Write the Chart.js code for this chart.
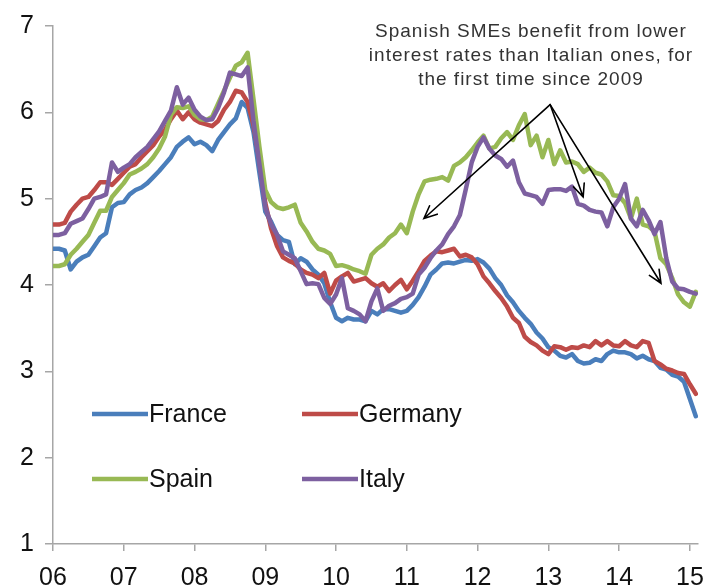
<!DOCTYPE html>
<html>
<head>
<meta charset="utf-8">
<title>SME interest rates</title>
<script src="https://cdn.jsdelivr.net/npm/chart.js@4.4.1/dist/chart.umd.min.js"></script>
<style>
    html, body { margin: 0; padding: 0; background: #fff; }
    #wrap { width: 716px; height: 586px; }
</style>
</head>
<body>
<div id="wrap"><canvas id="myChart" width="716" height="586"></canvas></div>
<script>
// monthly, Jan 2006 .. Feb 2015
var yearLabels = ['06', '07', '08', '09', '10', '11', '12', '13', '14', '15'];
var seriesNames = ['France', 'Germany', 'Spain', 'Italy'];
var seriesColors = ['#4A7EBB', '#BE4B48', '#98B954', '#7D60A0'];

var france = [
    4.42, 4.42, 4.40, 4.18, 4.27, 4.32, 4.35, 4.45, 4.55, 4.60, 4.90, 4.95,
    4.96, 5.05, 5.10, 5.13, 5.18, 5.25, 5.32, 5.40, 5.48, 5.60, 5.66, 5.71,
    5.63, 5.66, 5.62, 5.55, 5.68, 5.77, 5.86, 5.93, 6.12, 6.05, 5.77, 5.30,
    4.85, 4.73, 4.58, 4.52, 4.50, 4.24, 4.31, 4.27, 4.18, 4.12, 4.02, 3.80,
    3.62, 3.58, 3.62, 3.60, 3.60, 3.58, 3.70, 3.66, 3.72, 3.72, 3.70, 3.68,
    3.70, 3.77, 3.86, 3.98, 4.12, 4.18, 4.25, 4.26, 4.25, 4.27, 4.29, 4.28,
    4.30, 4.26, 4.19, 4.08, 4.00, 3.88, 3.80, 3.70, 3.62, 3.55, 3.45, 3.38,
    3.28, 3.24, 3.18, 3.16, 3.20, 3.12, 3.09, 3.10, 3.14, 3.12, 3.20, 3.24,
    3.22, 3.22, 3.20, 3.15, 3.18, 3.14, 3.12, 3.04, 3.02, 2.96, 2.94, 2.88,
    2.68, 2.48
];
var germany = [
    4.70, 4.70, 4.72, 4.85, 4.93, 5.00, 5.02, 5.10, 5.19, 5.19, 5.16, 5.23,
    5.30, 5.37, 5.40, 5.48, 5.55, 5.62, 5.72, 5.80, 5.92, 6.02, 5.92, 6.00,
    5.92, 5.88, 5.86, 5.84, 5.90, 6.03, 6.12, 6.25, 6.23, 6.12, 5.85, 5.45,
    4.95, 4.65, 4.45, 4.32, 4.28, 4.25, 4.18, 4.14, 4.12, 4.08, 4.14, 3.90,
    4.05, 4.10, 4.14, 4.04, 4.06, 4.08, 4.02, 3.98, 4.02, 3.93, 4.00, 4.06,
    3.95, 4.05, 4.16, 4.28, 4.34, 4.39, 4.38, 4.40, 4.42, 4.33, 4.35, 4.32,
    4.24, 4.10, 4.02, 3.93, 3.85, 3.75, 3.62, 3.56, 3.40, 3.34, 3.30, 3.24,
    3.20, 3.29, 3.28, 3.25, 3.28, 3.27, 3.30, 3.28, 3.35, 3.30, 3.35, 3.30,
    3.29, 3.35, 3.30, 3.28, 3.35, 3.33, 3.12, 3.08, 3.03, 3.01, 2.98, 2.97,
    2.85, 2.74
];
var spain = [
    4.22, 4.22, 4.24, 4.35, 4.42, 4.50, 4.58, 4.72, 4.86, 4.86, 5.02, 5.10,
    5.18, 5.28, 5.31, 5.35, 5.40, 5.48, 5.58, 5.72, 5.97, 6.06, 6.05, 6.07,
    5.97, 5.92, 5.91, 5.95, 6.10, 6.25, 6.40, 6.54, 6.58, 6.69, 6.15, 5.60,
    5.10, 4.96, 4.90, 4.88, 4.90, 4.93, 4.72, 4.62, 4.50, 4.42, 4.40, 4.36,
    4.22, 4.23, 4.21, 4.18, 4.16, 4.13, 4.35, 4.42, 4.47, 4.55, 4.60, 4.70,
    4.60, 4.85, 5.05, 5.20, 5.22, 5.23, 5.25, 5.21, 5.38, 5.42, 5.48, 5.56,
    5.65, 5.73, 5.58, 5.60, 5.70, 5.77, 5.68, 5.85, 5.98, 5.62, 5.73, 5.48,
    5.68, 5.40, 5.56, 5.42, 5.43, 5.40, 5.31, 5.36, 5.30, 5.28, 5.20, 5.04,
    5.03, 4.95, 4.77, 5.00, 4.70, 4.68, 4.62, 4.31, 4.24, 4.08, 3.89, 3.80,
    3.75, 3.92
];
var italy = [
    4.58, 4.58, 4.60, 4.71, 4.74, 4.77, 4.88, 5.00, 5.02, 5.05, 5.42, 5.31,
    5.36, 5.40, 5.48, 5.54, 5.60, 5.69, 5.78, 5.90, 6.02, 6.29, 6.09, 6.17,
    6.03, 5.95, 5.91, 5.92, 6.05, 6.23, 6.46, 6.44, 6.42, 6.52, 5.90, 5.40,
    4.90, 4.70, 4.58, 4.39, 4.35, 4.31, 4.16, 4.01, 4.02, 4.01, 3.85, 3.78,
    3.89, 4.08, 3.73, 3.70, 3.66, 3.58, 3.81, 3.96, 3.70, 3.76, 3.79, 3.84,
    3.86, 3.90, 4.12, 4.20, 4.31, 4.40, 4.47, 4.59, 4.68, 4.81, 5.11, 5.42,
    5.60, 5.71, 5.58, 5.50, 5.46, 5.37, 5.44, 5.19, 5.06, 5.04, 5.02, 4.94,
    5.10, 5.11, 5.11, 5.09, 5.14, 4.94, 4.92, 4.87, 4.85, 4.84, 4.68, 4.90,
    5.00, 5.17, 4.77, 4.68, 4.87, 4.75, 4.59, 4.73, 4.31, 4.04, 3.96, 3.95,
    3.92, 3.90
];
var allSeries = [france, germany, spain, italy];

var noteLines = ['Spanish SMEs benefit from lower', 'interest rates than Italian ones, for', 'the first time since 2009'];
// arrows in data units: [month, rate]
var arrowFrom = [84.3, 6.09];
var arrowTo = [[62.9, 4.77], [89.9, 5.02], [103.1, 4.02]];

var FONT = '"Liberation Sans", Arial, sans-serif';
var axisGrey = '#a6a6a6';

var toPoints = function (arr) {
    return arr.map(function (v, i) { return { x: i, y: v }; });
};

var datasets = seriesNames.map(function (name, k) {
    return {
        label: name,
        data: toPoints(allSeries[k]),
        borderColor: seriesColors[k],
        backgroundColor: seriesColors[k],
        borderWidth: 4.5,
        pointRadius: 0,
        tension: 0,
        borderJoinStyle: 'round',
        borderCapStyle: 'round',
        order: seriesNames.length - k
    };
});

// legend drawn inside the plot, 2 x 2
var insideLegend = {
    id: 'insideLegend',
    afterDraw: function (chart) {
        var ctx = chart.ctx;
        var cols = [92, 302];
        var rows = [414, 479];
        ctx.save();
        ctx.font = '25px ' + FONT;
        ctx.textBaseline = 'middle';
        ctx.textAlign = 'left';
        chart.data.datasets.forEach(function (ds, i) {
            var x = cols[i % 2];
            var y = rows[Math.floor(i / 2)];
            ctx.strokeStyle = ds.borderColor;
            ctx.lineWidth = 4.5;
            ctx.lineCap = 'butt';
            ctx.beginPath();
            ctx.moveTo(x, y);
            ctx.lineTo(x + 56, y);
            ctx.stroke();
            ctx.fillStyle = '#111';
            ctx.fillText(ds.label, x + 57, y + 1);
        });
        ctx.restore();
    }
};

var noteArrows = {
    id: 'noteArrows',
    afterDatasetsDraw: function (chart) {
        var ctx = chart.ctx;
        var xs = chart.scales.x, ys = chart.scales.y;
        var x0 = xs.getPixelForValue(arrowFrom[0]);
        var y0 = ys.getPixelForValue(arrowFrom[1]);
        ctx.save();
        ctx.strokeStyle = '#000';
        ctx.lineWidth = 1.6;
        ctx.lineCap = 'round';
        arrowTo.forEach(function (p) {
            var x1 = xs.getPixelForValue(p[0]);
            var y1 = ys.getPixelForValue(p[1]);
            var a = Math.atan2(y1 - y0, x1 - x0);
            var h = 14, w = 0.42;
            ctx.beginPath();
            ctx.moveTo(x0, y0);
            ctx.lineTo(x1, y1);
            ctx.moveTo(x1 - h * Math.cos(a - w), y1 - h * Math.sin(a - w));
            ctx.lineTo(x1, y1);
            ctx.lineTo(x1 - h * Math.cos(a + w), y1 - h * Math.sin(a + w));
            ctx.stroke();
        });

        ctx.fillStyle = '#333';
        ctx.font = '19px ' + FONT;
        ctx.letterSpacing = '1px';
        ctx.textAlign = 'center';
        ctx.textBaseline = 'middle';
        noteLines.forEach(function (t, i) {
            ctx.fillText(t, 531, 32 + i * 24);
        });
        ctx.restore();
    }
};

const config = {
    type: 'line',
    data: { datasets: datasets },
    options: {
        responsive: false,
        animation: false,
        layout: { padding: { top: 23, right: 16, left: 0, bottom: 0 } },
        plugins: {
            legend: { display: false },
            tooltip: { enabled: false },
            title: { display: false }
        },
        scales: {
            x: {
                type: 'linear',
                min: 0,
                max: 109.4,
                afterBuildTicks: function (axis) {
                    axis.ticks = yearLabels.map(function (l, i) { return { value: i * 12 }; });
                },
                afterFit: function (scale) { scale.height = 42; },
                ticks: {
                    callback: function (v) { return yearLabels[Math.round(v / 12)]; },
                    font: { size: 25, family: FONT },
                    color: '#111',
                    maxRotation: 0,
                    autoSkip: false,
                    padding: 12
                },
                grid: { drawOnChartArea: false, drawTicks: true, tickLength: 7, color: axisGrey, lineWidth: 1.5 },
                border: { display: true, color: axisGrey, width: 1.5 }
            },
            y: {
                min: 1,
                max: 7,
                afterFit: function (scale) { scale.width = 53; },
                ticks: {
                    stepSize: 1,
                    font: { size: 25, family: FONT },
                    color: '#111',
                    padding: 11
                },
                grid: { drawOnChartArea: false, drawTicks: true, tickLength: 8, color: axisGrey, lineWidth: 1.5 },
                border: { display: true, color: axisGrey, width: 1.5 }
            }
        }
    },
    plugins: [noteArrows, insideLegend]
};

var ctx = document.getElementById('myChart').getContext('2d');
var myChart = new Chart(ctx, config);
</script>
</body>
</html>
